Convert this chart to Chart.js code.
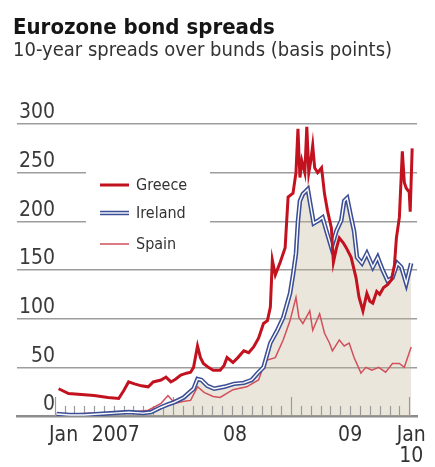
<!DOCTYPE html>
<html>
<head>
<meta charset="utf-8">
<script src="https://cdn.jsdelivr.net/npm/chart.js@4.4.1/dist/chart.umd.min.js"></script>
<style>
  html, body { margin: 0; padding: 0; background: #fff; }
  #wrap { width: 435px; height: 467px; position: relative; }
</style>
</head>
<body>
<div id="wrap"><canvas id="spreads"></canvas></div>
<script>
/**
 * Eurozone bond spreads - 10-year spreads over bunds (bp)
 * x = months since Jan 2007
 */

const FONT = "'Liberation Sans Narrow', 'DejaVu Sans Condensed', 'Roboto', sans-serif";

// Greece
const greeceMonths = [0.4, 1.4, 2.7, 4.0, 5.4, 6.5, 7.0, 7.5, 8.1, 8.8, 9.5, 10.0, 10.8, 11.3, 11.8,
    12.3, 12.8, 13.4, 13.8, 14.1, 14.5, 14.8, 15.1, 15.6, 16.1, 16.8, 17.2, 17.5, 18.1, 18.6,
    19.2, 19.7, 20.2, 20.7, 21.2, 21.6, 21.9, 22.1, 22.4, 22.9, 23.4, 23.7, 24.2, 24.5, 24.7,
    24.9, 25.1, 25.4, 25.6, 25.8, 26.0, 26.2, 26.4, 26.7, 27.1, 27.4, 27.7, 28.1, 28.3, 28.6,
    28.9, 29.3, 29.6, 30.1, 30.6, 30.9, 31.3, 31.7, 32.0, 32.3, 32.7, 33.0, 33.4, 33.8, 34.2,
    34.5, 34.7, 35.0, 35.3, 35.5, 35.7, 36.0, 36.1, 36.3];
const greeceBp = [28, 23, 22, 21, 19, 18, 26, 35, 33, 31, 30, 35, 37, 40, 35,
    38, 42, 44, 45, 50, 72, 60, 54, 50, 47, 47, 52, 60, 55, 60,
    67, 65, 71, 80, 95, 98, 112, 160, 145, 158, 173, 225, 229, 250, 295,
    245, 262, 250, 297, 250, 262, 278, 255, 250, 255, 228, 211, 193, 158, 172,
    183, 178, 173, 163, 142, 122, 108, 126, 118, 116, 128, 125, 132, 135, 140,
    155, 183, 204, 272, 240, 234, 230, 210, 275];

// Ireland
const irelandMonths = [0.2, 1.5, 3, 4.5, 6, 7.5, 9, 9.8, 10.8, 11.5, 12.1, 13.1, 14.1, 14.5, 14.9,
    15.5, 16.2, 17.2, 18.2, 19.2, 20.0, 20.6, 21.2, 21.9, 22.6, 23.2, 23.9, 24.2, 24.5, 24.7,
    24.9, 25.2, 25.7, 25.9, 26.3, 26.8, 27.2, 27.6, 28.1, 28.6, 29.1, 29.4, 29.7, 30.1, 30.4,
    30.7, 31.2, 31.7, 32.3, 32.8, 33.3, 33.8, 34.3, 34.8, 35.2, 35.7, 36.2];
const irelandBp = [2, 1, 1, 2, 3, 4, 3, 4, 9, 12, 14, 19, 28, 38, 37,
    31, 28, 30, 33, 34, 37, 44, 50, 75, 88, 101, 126, 145, 167, 200,
    221, 228, 233, 221, 198, 201, 204, 190, 173, 190, 201, 221, 224, 204, 190,
    163, 157, 167, 153, 163, 150, 139, 142, 157, 153, 136, 157];

// Spain
const spainMonths = [0.2, 2, 4, 6, 8, 9.5, 10.8, 11.5, 12.2, 13.0, 13.8, 14.5, 15.2, 16.1, 16.8,
    18.1, 19.5, 20.7, 21.4, 22.4, 23.2, 23.9, 24.5, 24.8, 25.2, 25.9, 26.2, 26.9, 27.4, 27.9,
    28.2, 28.9, 29.4, 29.9, 30.4, 31.1, 31.6, 32.2, 32.9, 33.6, 34.3, 35.0, 35.5, 36.2];
const spainBp = [2, 2, 3, 3, 4, 6, 13, 21, 13, 15, 16, 30, 24, 20, 19,
    27, 30, 37, 57, 60, 78, 98, 122, 101, 95, 108, 88, 105, 85, 75,
    67, 78, 72, 75, 60, 44, 50, 47, 50, 45, 54, 54, 50, 71];

// x axis labels (month positions) and y ticks
const xLabelMonths = [0.9, 6.2, 18.3, 30, 36.2];
const xLabels = ['Jan', '2007', '08', '09', ['Jan', '10']];
const yTicks = [0, 50, 100, 150, 200, 250, 300];

const toPoints = (xs, ys) => xs.map((m, i) => ({ x: m, y: ys[i] }));

// small monthly ticks pointing up from the axis, taller ones at each January
const monthTicks = {
    id: 'monthTicks',
    beforeDatasetsDraw(chart) {
        const { ctx, scales: { x, y }, chartArea } = chart;
        const base = y.getPixelForValue(0);
        ctx.save();
        ctx.strokeStyle = '#9a9a9a';
        ctx.lineWidth = 1.2;
        for (let m = 0; m <= 36; m++) {
            const px = Math.round(x.getPixelForValue(m)) + 0.5;
            const len = m % 12 === 0 ? 19 : 10;
            ctx.beginPath();
            ctx.moveTo(px, base);
            ctx.lineTo(px, base - len);
            ctx.stroke();
        }
        // white box behind the legend
        ctx.fillStyle = '#fff';
        ctx.fillRect(chartArea.left + 69, chartArea.top + 42, 124, 92);
        ctx.restore();
    }
};

// legend inside the plot
const insideLegend = {
    id: 'insideLegend',
    afterDatasetsDraw(chart) {
        const { ctx, chartArea } = chart;
        const ds = chart.data.datasets;
        const x0 = chartArea.left + 83, x1 = x0 + 29;
        const rows = [
            { label: 'Greece', y: chartArea.top + 61, lines: [ds[0]] },
            { label: 'Ireland', y: chartArea.top + 89, lines: [ds[2], ds[1]] },
            { label: 'Spain', y: chartArea.top + 120, lines: [ds[3]] }
        ];
        ctx.save();
        rows.forEach(r => {
            r.lines.forEach(d => {
                ctx.strokeStyle = d.borderColor;
                ctx.lineWidth = d.borderWidth;
                ctx.beginPath();
                ctx.moveTo(x0, r.y);
                ctx.lineTo(x1, r.y);
                ctx.stroke();
            });
            ctx.font = '16px ' + FONT;
            ctx.fillStyle = '#333';
            ctx.textAlign = 'left';
            ctx.textBaseline = 'middle';
            ctx.fillText(r.label, x1 + 7, r.y + 1);
        });
        ctx.restore();
    }
};

const ctx = document.getElementById('spreads').getContext('2d');

new Chart(ctx, {
    type: 'line',
    data: {
        datasets: [
            {
                label: 'Greece',
                data: toPoints(greeceMonths, greeceBp),
                borderColor: '#c3121f',
                borderWidth: 3,
                pointRadius: 0,
                tension: 0,
                fill: false
            },
            {
                label: 'Ireland (inner)',
                data: toPoints(irelandMonths, irelandBp),
                borderColor: '#ffffff',
                borderWidth: 1.4,
                pointRadius: 0,
                tension: 0,
                fill: false
            },
            {
                label: 'Ireland',
                data: toPoints(irelandMonths, irelandBp),
                borderColor: '#3c4f96',
                borderWidth: 4.5,
                pointRadius: 0,
                tension: 0,
                fill: 'origin',
                backgroundColor: 'rgba(190, 180, 145, 0.33)'
            },
            {
                label: 'Spain',
                data: toPoints(spainMonths, spainBp),
                borderColor: '#d24f5c',
                borderWidth: 1.5,
                pointRadius: 0,
                tension: 0,
                fill: false
            }
        ]
    },
    options: {
        responsive: true,
        maintainAspectRatio: false,
        animation: false,
        layout: { padding: { left: 13, right: 17, top: 0, bottom: -9 } },
        plugins: {
            legend: { display: false },
            tooltip: { enabled: false },
            filler: { drawTime: 'beforeDatasetsDraw' },
            title: {
                display: true,
                text: 'Eurozone bond spreads',
                align: 'start',
                color: '#151515',
                font: { family: FONT, size: 22, weight: 'bold', lineHeight: 1 },
                padding: { top: 17, bottom: 2 }
            },
            subtitle: {
                display: true,
                text: '10-year spreads over bunds (basis points)',
                align: 'start',
                color: '#333',
                font: { family: FONT, size: 20, lineHeight: 1 },
                padding: { top: 0, bottom: 63 }
            }
        },
        scales: {
            x: {
                type: 'linear',
                min: -3.83,
                max: 36.8,
                afterBuildTicks: (axis) => {
                    axis.ticks = xLabelMonths.map(v => ({ value: v }));
                },
                ticks: {
                    autoSkip: false,
                    maxRotation: 0,
                    padding: 9,
                    color: '#333',
                    font: { family: FONT, size: 21, lineHeight: 1 },
                    callback: (value, index) => xLabels[index]
                },
                grid: { display: false, drawTicks: false },
                border: { display: true, color: '#8c8c8c', width: 2.5 }
            },
            y: {
                min: 0,
                max: 300,
                afterBuildTicks: (axis) => {
                    axis.ticks = yTicks.map(v => ({ value: v }));
                },
                ticks: {
                    mirror: true,
                    crossAlign: 'far',
                    padding: 2,
                    labelOffset: -11,
                    color: '#3a3a3a',
                    font: { family: FONT, size: 21 }
                },
                grid: { color: '#9d9d9d', lineWidth: 1.5, drawTicks: false },
                border: { display: false }
            }
        }
    },
    plugins: [monthTicks, insideLegend]
});
</script>
</body>
</html>
